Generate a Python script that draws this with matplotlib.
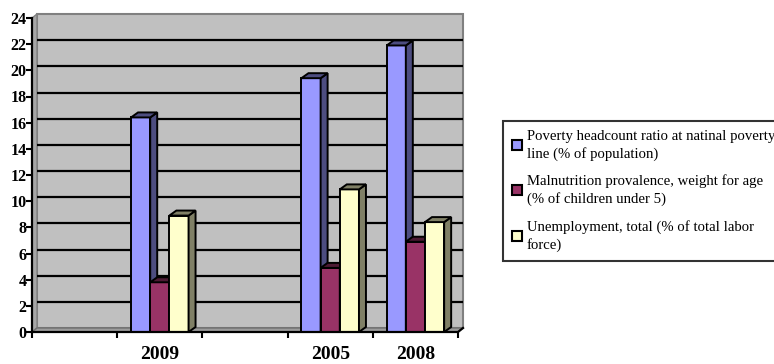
import numpy as np
import matplotlib
matplotlib.use("Agg")
import matplotlib.pyplot as plt
from matplotlib.patches import Polygon

plt.rcParams['font.family'] = ['Liberation Serif', 'DejaVu Serif']

# year slots on the category axis (empty slots have no data)
categories = ["", "2009", "", "2005", "2008"]
poverty = [np.nan, 16.4, np.nan, 19.4, 21.9]
malnutrition = [np.nan, 3.8, np.nan, 4.9, 6.9]
unemployment = [np.nan, 8.9, np.nan, 10.9, 8.4]

series_labels = [
    "Poverty headcount ratio at natinal poverty\nline (% of population)",
    "Malnutrition provalence, weight for age\n(% of children under 5)",
    "Unemployment, total (% of total labor\nforce)",
]
face_colors = ['#9999FF', '#993366', '#FFFFCC']
side_colors = ['#4D4D80', '#4D1A33', '#808066']

W, H = 774, 364
fig = plt.figure(figsize=(W / 100, H / 100), dpi=100)
ax_px = (32, 32, 426, 314)  # left, bottom, width, height in pixels
ax = fig.add_axes([ax_px[0] / W, ax_px[1] / H, ax_px[2] / W, ax_px[3] / H])

x = np.arange(len(categories))
xmin, xmax, ymin, ymax = -0.5, len(categories) - 0.5, 0, 24
ax.set_xlim(xmin, xmax)
ax.set_ylim(ymin, ymax)

# pixel -> data conversion for the fake 3D depth
px_x = (xmax - xmin) / ax_px[2]
px_y = (ymax - ymin) / ax_px[3]
wdx, wdy = 5 * px_x, 4 * px_y   # wall depth
bdx, bdy = 7 * px_x, 5 * px_y   # bar depth

ax.set_facecolor('none')
for s in ax.spines.values():
    s.set_visible(False)

# back wall, side wall and floor
ax.add_patch(Polygon([(xmin + wdx, ymin + wdy), (xmin + wdx, ymax + wdy),
                      (xmax + wdx, ymax + wdy), (xmax + wdx, ymin + wdy)],
                     closed=True, fc='#C0C0C0', ec='#808080', lw=1.5,
                     zorder=0, clip_on=False))
ax.add_patch(Polygon([(xmin, ymin), (xmin, ymax), (xmin + wdx, ymax + wdy),
                      (xmin + wdx, ymin + wdy)],
                     closed=True, fc='#A6A6A6', ec='#808080', lw=1.0,
                     zorder=0.5, clip_on=False))
ax.add_patch(Polygon([(xmin, ymin), (xmin + wdx, ymin + wdy),
                      (xmax + wdx, ymin + wdy), (xmax, ymin)],
                     closed=True, fc='#9C9C9C', ec='#707070', lw=1.0,
                     zorder=0.5, clip_on=False))

# gridlines on the back wall
for v in range(2, 24, 2):
    ax.plot([xmin + wdx, xmax + wdx], [v + wdy, v + wdy], color='black',
            lw=1.6, zorder=1, clip_on=False, solid_capstyle='butt')

# front faces of the columns, then their side and top faces
width = 0.225
for i, (vals, fc, sc) in enumerate(zip([poverty, malnutrition, unemployment],
                                       face_colors, side_colors)):
    bars = ax.bar(x + (i - 1) * width, vals, width, color=fc,
                  edgecolor='black', linewidth=1.4, zorder=3 + i,
                  label=series_labels[i])
    for b in bars:
        h = b.get_height()
        if np.isnan(h):
            continue
        x0, x1 = b.get_x(), b.get_x() + b.get_width()
        ax.add_patch(Polygon([(x1, 0), (x1, h), (x1 + bdx, h + bdy), (x1 + bdx, bdy)],
                             closed=True, fc=sc, ec='black', lw=1.4,
                             zorder=3 + i, clip_on=False))
        ax.add_patch(Polygon([(x0, h), (x0 + bdx, h + bdy), (x1 + bdx, h + bdy), (x1, h)],
                             closed=True, fc=sc, ec='black', lw=1.4,
                             zorder=3 + i, clip_on=False))

# front axis lines
ax.plot([xmin, xmin], [ymin, ymax], color='black', lw=1.6, zorder=10, clip_on=False)
ax.plot([xmin, xmax, xmax + wdx], [ymin, ymin, ymin + wdy], color='black',
        lw=1.6, zorder=10, clip_on=False)

ax.set_yticks(range(0, 25, 2))
ax.set_yticklabels([str(v) for v in range(0, 25, 2)], fontsize=11.5, fontweight='bold')
ax.set_xticks(np.arange(len(categories) + 1) - 0.5)
ax.set_xticklabels([])
ax.set_xticks(x, minor=True)
ax.set_xticklabels(categories, minor=True, fontsize=14, fontweight='bold')
ax.tick_params(axis='y', direction='out', length=4, width=1.5, pad=0)
ax.tick_params(axis='x', which='major', direction='out', length=4, width=1.5)
ax.tick_params(axis='x', which='minor', length=0, pad=10)

leg = ax.legend(loc='upper left', bbox_to_anchor=(503 / W, 1 - 121 / H),
                bbox_transform=fig.transFigure, fontsize=10.6, frameon=True,
                fancybox=False, edgecolor='black', handlelength=0.7,
                handleheight=0.7, handletextpad=0.3, labelspacing=0.95,
                borderpad=0.6, borderaxespad=0)
leg.get_frame().set_linewidth(1.5)
for t in leg.get_texts():
    t.set_linespacing(1.35)
for hnd in leg.legend_handles:
    hnd.set_linewidth(1.5)

fig.savefig('out.png', dpi=100)
